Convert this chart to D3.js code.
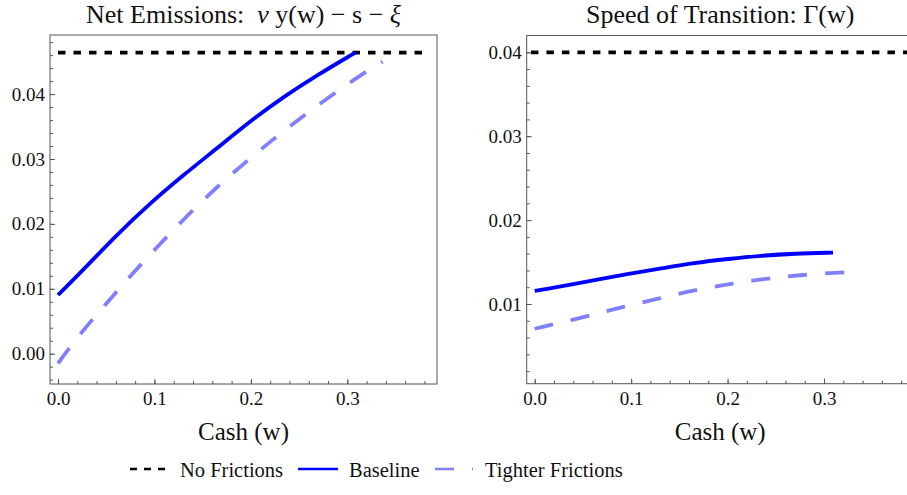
<!DOCTYPE html>
<html>
<head>
<meta charset="utf-8">
<script src="https://cdn.jsdelivr.net/npm/d3@7.9.0/dist/d3.min.js"></script>
<style>
  html, body { margin: 0; padding: 0; background: #fff; }
  svg { display: block; }
  text { font-family: 'Liberation Serif', 'Times New Roman', Times, serif; }
</style>
</head>
<body>
<svg id="chart" width="907" height="495"></svg>
<script>
// cash grid
const wBaseEm = [0, 0.026, 0.0607, 0.0954, 0.130, 0.1648, 0.1994, 0.2341, 0.2688, 0.3087];
const baseEm  = [0.00904, 0.01289, 0.01828, 0.02316, 0.02752, 0.03163, 0.03584, 0.03959, 0.04293, 0.04642];
const wTightEm = [0, 0.0236, 0.0503, 0.0763, 0.1041, 0.1318, 0.1613, 0.1908, 0.2220, 0.2532, 0.2862, 0.3191, 0.3365];
const tightEm  = [-0.00149, 0.00323, 0.00775, 0.01222, 0.01664, 0.02095, 0.02521, 0.02906, 0.03291, 0.03651, 0.04010, 0.04344, 0.04498];
const noFrictEm = 0.0464;

const wBaseSp = [0, 0.0765, 0.1, 0.128, 0.166, 0.2006, 0.2351, 0.2696, 0.3093];
const baseSp  = [0.01155, 0.01314, 0.01366, 0.01418, 0.01492, 0.01537, 0.01577, 0.01601, 0.01613];
const wTightSp = [0, 0.049, 0.0879, 0.1269, 0.166, 0.2048, 0.2448, 0.2845, 0.3344];
const tightSp  = [0.00705, 0.00837, 0.00956, 0.0106, 0.01167, 0.01243, 0.0131, 0.01354, 0.01386];
const noFrictSp = 0.04;

const xTicks = [0, 0.1, 0.2, 0.3];
const yTicksEm = [0, 0.01, 0.02, 0.03, 0.04];
const yTicksSp = [0.01, 0.02, 0.03, 0.04];

const legendLabels = ['No Frictions', 'Baseline', 'Tighter Frictions'];

const svg = d3.select('#chart');
const frameColor = '#555';

function zip(xs, ys) {
    return xs.map((x, i) => [x, ys[i]]);
}

function drawPanel(opts) {
    const { left, width, top, height, yDomain, yTicks, id } = opts;
    const x = d3.scaleLinear().domain([-0.0083, 0.393]).range([left, left + width]);
    const y = d3.scaleLinear().domain(yDomain).range([top + height, top]);

    const g = svg.append('g');

    g.append('clipPath').attr('id', id)
        .append('rect')
        .attr('x', left).attr('y', top)
        .attr('width', width).attr('height', height);

    const line = d3.line().x(d => x(d[0])).y(d => y(d[1])).curve(d3.curveBasis);
    const plot = g.append('g').attr('clip-path', `url(#${id})`);

    plot.append('path')
        .datum(opts.noFrict)
        .attr('d', line)
        .attr('fill', 'none')
        .attr('stroke', '#000')
        .attr('stroke-width', 3.8)
        .attr('stroke-dasharray', '7.5,8');

    plot.append('path')
        .datum(opts.tight)
        .attr('d', line)
        .attr('fill', 'none')
        .attr('stroke', '#8080ff')
        .attr('stroke-width', 3.8)
        .attr('stroke-dasharray', '19,18');

    plot.append('path')
        .datum(opts.base)
        .attr('d', line)
        .attr('fill', 'none')
        .attr('stroke', '#0000ff')
        .attr('stroke-width', 3.8);

    // minor ticks
    const xMinor = d3.range(0, 0.3931, 0.02);
    const yMinor = d3.range(Math.ceil(yDomain[0] / 0.002) * 0.002, yDomain[1], 0.002);

    g.append('g')
        .attr('transform', `translate(0,${top + height})`)
        .call(d3.axisBottom(x).tickValues(xMinor).tickSize(-3).tickFormat(''))
        .call(a => a.select('.domain').remove())
        .call(a => a.selectAll('line').attr('stroke', frameColor));

    g.append('g')
        .attr('transform', `translate(${left},0)`)
        .call(d3.axisLeft(y).tickValues(yMinor).tickSize(-3).tickFormat(''))
        .call(a => a.select('.domain').remove())
        .call(a => a.selectAll('line').attr('stroke', frameColor));

    // major ticks
    g.append('g')
        .attr('transform', `translate(0,${top + height})`)
        .call(d3.axisBottom(x).tickValues(xTicks).tickSize(-5).tickPadding(8).tickFormat(d3.format('.1f')))
        .call(a => a.attr('font-family', null).attr('font-size', 19))
        .call(a => a.select('.domain').remove())
        .call(a => a.selectAll('line').attr('stroke', frameColor))
        .call(a => a.selectAll('text').attr('fill', '#111'));

    g.append('g')
        .attr('transform', `translate(${left},0)`)
        .call(d3.axisLeft(y).tickValues(yTicks).tickSize(-5).tickPadding(5).tickFormat(d3.format('.2f')))
        .call(a => a.attr('font-family', null).attr('font-size', 19))
        .call(a => a.select('.domain').remove())
        .call(a => a.selectAll('line').attr('stroke', frameColor))
        .call(a => a.selectAll('text').attr('fill', '#111'));

    g.append('rect')
        .attr('x', left).attr('y', top)
        .attr('width', width).attr('height', height)
        .attr('fill', 'none')
        .attr('stroke', frameColor)
        .attr('stroke-width', 1);

    g.append('text')
        .attr('x', left + width / 2)
        .attr('y', 440)
        .attr('text-anchor', 'middle')
        .attr('font-size', 25)
        .attr('fill', '#111')
        .text('Cash (w)');

    const title = g.append('text')
        .attr('x', left + width / 2)
        .attr('y', 23)
        .attr('text-anchor', 'middle')
        .attr('font-size', 26)
        .attr('fill', '#111');
    opts.title.forEach(([t, italic]) => {
        title.append('tspan').attr('font-style', italic ? 'italic' : 'normal').text(t);
    });
}

drawPanel({
    id: 'clipEm',
    left: 50, width: 387, top: 35, height: 349,
    yDomain: [-0.00467, 0.0491],
    yTicks: yTicksEm,
    noFrict: [[0, noFrictEm], [0.378, noFrictEm]],
    base: zip(wBaseEm, baseEm),
    tight: zip(wTightEm, tightEm),
    title: [['Net Emissions:\u00a0\u00a0', false], ['\u03bd', true], [' y(w) \u2212 s \u2212 ', false], ['\u03be', true]]
});

drawPanel({
    id: 'clipSp',
    left: 526.7, width: 387, top: 35.5, height: 348.2,
    yDomain: [0.0005, 0.042],
    yTicks: yTicksSp,
    noFrict: [[-0.02, noFrictSp], [0.42, noFrictSp]],
    base: zip(wBaseSp, baseSp),
    tight: zip(wTightSp, tightSp),
    title: [['Speed of Transition: \u0393(w)', false]]
});

// legend
const legendY = 469;
const legendItems = [
    { label: legendLabels[0], x: 130, len: 35, tx: 180, color: '#000', dash: '7,7' },
    { label: legendLabels[1], x: 298, len: 40, tx: 349, color: '#0000ff', dash: null },
    { label: legendLabels[2], x: 435, len: 38, tx: 485, color: '#8080ff', dash: '19,18' }
];
const legend = svg.append('g');
legendItems.forEach(it => {
    legend.append('line')
        .attr('x1', it.x).attr('x2', it.x + it.len)
        .attr('y1', legendY).attr('y2', legendY)
        .attr('stroke', it.color)
        .attr('stroke-width', 2.5)
        .attr('stroke-dasharray', it.dash);
    legend.append('text')
        .attr('x', it.tx)
        .attr('y', legendY + 8)
        .attr('font-size', 20.5)
        .attr('fill', '#111')
        .text(it.label);
});
</script>
</body>
</html>
